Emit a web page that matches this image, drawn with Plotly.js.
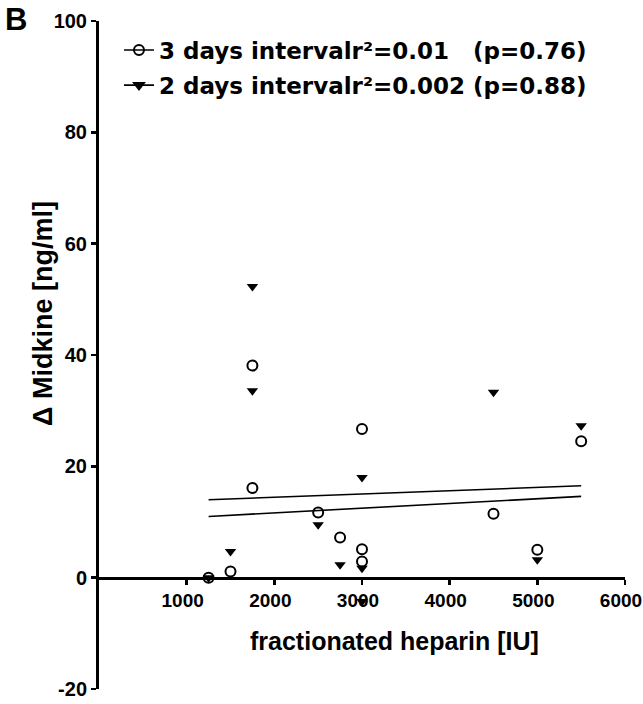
<!DOCTYPE html>
<html>
<head>
<meta charset="utf-8">
<script src="https://cdn.plot.ly/plotly-3.0.1.min.js"></script>
<style>html,body{margin:0;padding:0;background:#fff;}</style>
</head>
<body>
<div id="chart" style="width:643px;height:704px;"></div>
<script>
// Data
const heparin3 = [1250, 1500, 1750, 1750, 2500, 2750, 3000, 3000, 3000, 4500, 5000, 5500];
const midkine3 = [0, 1.1, 38.1, 16.1, 11.7, 7.2, 26.7, 5.1, 2.9, 11.5, 5.0, 24.5];
const heparin2 = [1250, 1500, 1750, 1750, 2500, 2750, 3000, 3000, 3000, 4500, 5000, 5500];
const midkine2 = [0, 4.7, 52.3, 33.6, 9.5, 2.3, 18.0, 1.7, -4.3, 33.3, 3.2, 27.3];
const fitX = [1250, 5500];
const fitUpperY = [14.0, 16.5];
const fitLowerY = [11.0, 14.6];
const legend3 = "3 days intervalr\u00b2=0.01\u00a0\u00a0\u00a0(p=0.76)";
const legend2 = "2 days intervalr\u00b2=0.002 (p=0.88)";
const xTicks = [1000, 2000, 3000, 4000, 5000, 6000];
const yTicks = [-20, 0, 20, 40, 60, 80, 100];
const xTitle = "fractionated heparin [IU]";
const yTitle = "\u0394 Midkine [ng/ml]";
const panelLabel = "B";

const black = "#000";
const bold = {family: "Arial, 'Liberation Sans', sans-serif", color: black, weight: "bold"};
const circleMarker = {symbol: "circle-open", size: 10, color: black, line: {width: 2, color: black}};
const triMarker = {symbol: "triangle-down", size: 10, color: black, line: {width: 0}};

const traces = [
  {x: fitX, y: fitUpperY, mode: "lines", line: {color: black, width: 1.6}, showlegend: false, hoverinfo: "skip"},
  {x: fitX, y: fitLowerY, mode: "lines", line: {color: black, width: 1.6}, showlegend: false, hoverinfo: "skip"},
  {x: heparin3, y: midkine3, mode: "markers", marker: circleMarker, showlegend: false, cliponaxis: false},
  {x: heparin2, y: midkine2, mode: "markers", marker: triMarker, showlegend: false, cliponaxis: false},
  {x: [null], y: [null], mode: "lines+markers", name: legend3, marker: circleMarker, line: {color: black, width: 1.6}, legend: "legend"},
  {x: [null], y: [null], mode: "lines+markers", name: legend2, marker: {symbol: "triangle-down", size: 12, color: black, line: {width: 0}}, line: {color: black, width: 1.6}, legend: "legend2"}
];

const legendFont = {family: "'DejaVu Sans', sans-serif", size: 23, color: black, weight: "bold"};

const layout = {
  width: 643, height: 704,
  margin: {l: 99, r: 18, t: 21, b: 15},
  paper_bgcolor: "#fff", plot_bgcolor: "#fff",
  showlegend: true,
  legend: {x: 0.038, y: 0.9566, xanchor: "left", yanchor: "middle", font: legendFont, bgcolor: "rgba(0,0,0,0)", borderwidth: 0},
  legend2: {x: 0.038, y: 0.904, xanchor: "left", yanchor: "middle", font: legendFont, bgcolor: "rgba(0,0,0,0)", borderwidth: 0},
  xaxis: {
    range: [0, 6000], anchor: "free", position: 1/6,
    tickvals: xTicks, ticktext: xTicks.map(String),
    ticks: "outside", ticklen: 5, tickwidth: 2.5, tickcolor: black,
    ticklabeloverflow: "allow", ticklabelshift: -4,
    showline: true, linewidth: 3, linecolor: black,
    showgrid: false, zeroline: false,
    tickfont: Object.assign({size: 19}, bold)
  },
  yaxis: {
    range: [-20, 100],
    tickvals: yTicks, ticktext: yTicks.map(String),
    ticks: "outside", ticklen: 5, tickwidth: 2.5, tickcolor: black,
    showline: true, linewidth: 3, linecolor: black,
    showgrid: false, zeroline: false,
    tickfont: Object.assign({size: 20}, bold)
  },
  annotations: [
    {text: xTitle, xref: "paper", yref: "paper", x: 0.5627, y: 0.0719, xanchor: "center", yanchor: "middle", showarrow: false, font: Object.assign({size: 25}, bold)},
    {text: yTitle, xref: "paper", yref: "paper", x: -0.1065, y: 0.5629, xanchor: "center", yanchor: "middle", textangle: -90, showarrow: false, font: Object.assign({size: 27}, bold)},
    {text: panelLabel, xref: "paper", yref: "paper", x: -0.1825, y: 1.0314, xanchor: "left", yanchor: "top", showarrow: false, font: Object.assign({size: 31}, bold)}
  ]
};

Plotly.newPlot("chart", traces, layout, {staticPlot: true, displayModeBar: false});
</script>
</body>
</html>
